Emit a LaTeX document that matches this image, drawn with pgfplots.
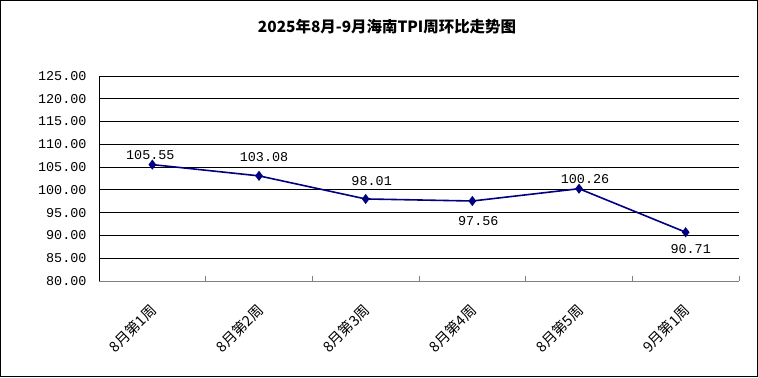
\documentclass[border=0pt]{standalone}
\usepackage{fontspec}
\usepackage{pgfplots}
\pgfplotsset{compat=1.18}
\setmainfont{Liberation Sans}
\newfontfamily\cjk{Noto Sans CJK SC}
\newfontfamily\numfont{Liberation Mono}
\definecolor{navy}{HTML}{000080}
\definecolor{axgray}{HTML}{808080}

\begin{document}
\begin{tikzpicture}[x=1bp,y=1bp]
\draw[line width=1bp,black] (0.5,0.5) rectangle (757.5,376.5);
\node[font=\cjk\bfseries\fontsize{15.5}{16}\selectfont] at (387,350) {2025年8月-9月海南TPI周环比走势图};
\begin{axis}[
  at={(99bp,96bp)}, anchor=south west,
  width=640bp, height=205bp, scale only axis,
  xmin=-0.5, xmax=5.5, ymin=80, ymax=125,
  axis x line*=bottom, axis y line*=left,
  x axis line style={axgray, line width=1bp},
  y axis line style={black, line width=1bp},
  xtick={0,...,5},
  xticklabels={8月第1周,8月第2周,8月第3周,8月第4周,8月第5周,9月第1周},
  major x tick style={draw=none},
  minor xtick={0.5,1.5,...,5.5},
  minor x tick style={axgray, line width=1bp},
  minor tick length=5bp,
  xticklabel style={font=\cjk\fontsize{14.5}{14.5}\selectfont, xshift=4bp, yshift=-24bp, rotate=45, anchor=east},
  ytick={80,85,...,125},
  major y tick style={draw=none},
  ymajorgrids,
  major grid style={black, line width=0.9bp},
  yticklabel style={font=\numfont\fontsize{13.5}{14}\selectfont, xshift=-9bp,
    /pgf/number format/fixed, /pgf/number format/zerofill, /pgf/number format/precision=2,
    /pgf/number format/assume math mode=true},
  clip=false,
  lbl/.style 2 args={draw=none, mark=none, nodes near coords,
    every node near coord/.append style={black, font=\numfont\fontsize{13.5}{14}\selectfont,
    /pgf/number format/fixed, /pgf/number format/zerofill, /pgf/number format/precision=2,
    /pgf/number format/assume math mode=true, inner sep=0pt, anchor=center, xshift=#1bp, yshift=#2bp}},
]
\addplot[navy, line width=1.6bp, mark=diamond*, mark size=3.8bp, mark options={fill=navy, draw=navy}]
  coordinates {(0,105.55) (1,103.08) (2,98.01) (3,97.56) (4,100.26) (5,90.71)};
\addplot[lbl={-2}{10}] coordinates {(0,105.55)};
\addplot[lbl={5}{19}] coordinates {(1,103.08)};
\addplot[lbl={6}{17.5}] coordinates {(2,98.01)};
\addplot[lbl={6}{-20.5}] coordinates {(3,97.56)};
\addplot[lbl={6}{10}] coordinates {(4,100.26)};
\addplot[lbl={5}{-16.5}] coordinates {(5,90.71)};
\end{axis}
\pgfresetboundingbox
\useasboundingbox (0,0) rectangle (758,377);
\end{tikzpicture}
\end{document}
